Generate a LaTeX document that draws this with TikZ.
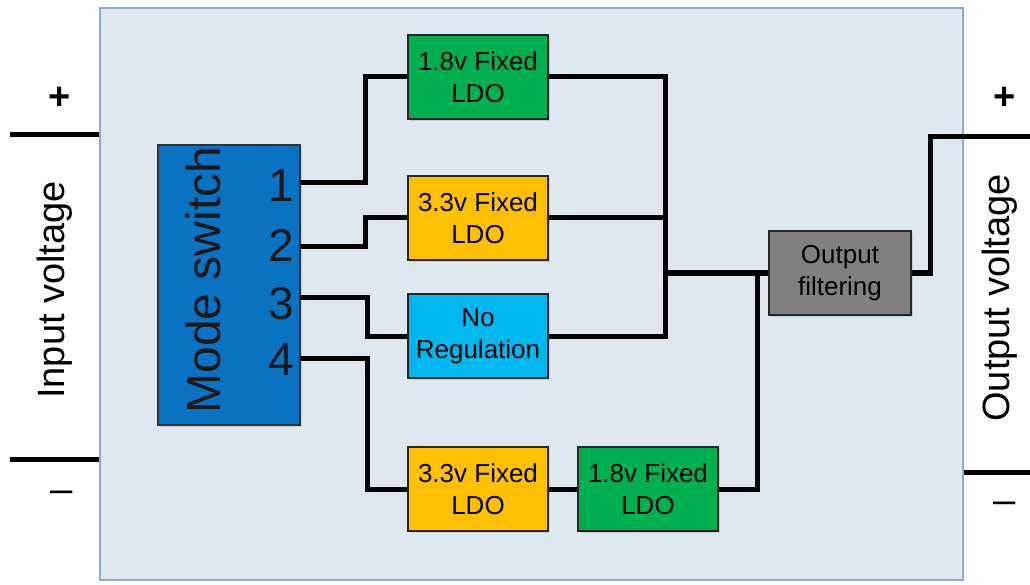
\documentclass[tikz,border=0pt]{standalone}
\usepackage{fontspec}
\setmainfont{Liberation Sans}
\usetikzlibrary{shadows}
\definecolor{panelbg}{HTML}{DFE7F1}
\definecolor{panelline}{HTML}{8EAAD0}
\definecolor{swblue}{HTML}{0A72C2}
\definecolor{ldogreen}{HTML}{00B050}
\definecolor{ldoyellow}{HTML}{FFC000}
\definecolor{noregcyan}{HTML}{00B8F0}
\definecolor{filtgray}{HTML}{808080}
\begin{document}
\begin{tikzpicture}[
        x=1pt, y=-1pt,
        box/.style={draw=black!85, line width=1.6pt, rectangle, minimum width=140pt, minimum height=84pt, align=center,
            font=\fontsize{26}{32}\selectfont, drop shadow={shadow xshift=1.5pt, shadow yshift=-2pt, opacity=0.25}},
        wire/.style={line width=5pt, line join=miter},
        sign/.style={font=\fontsize{38}{40}\selectfont\bfseries},
        minus/.style={font=\fontsize{40}{40}\selectfont},
        side/.style={font=\fontsize{38}{40}\selectfont, rotate=90}
    ]
    \useasboundingbox (0,0) rectangle (1030,585);

    % Board
    \node[draw=panelline, line width=1.5pt, fill=panelbg, minimum width=863pt, minimum height=572pt, inner sep=0pt] (board) at (531.5,294) {};

    % Mode switch with its four ports
    \node[draw=black!80, line width=1.5pt, fill=swblue, minimum width=142pt, minimum height=280pt,
        drop shadow={shadow xshift=1.5pt, shadow yshift=-2pt, opacity=0.25}] (sw) at (229,285) {};
    \node[rotate=90, font=\fontsize{48}{50}\selectfont, text=black!90] (swlabel) at (203,280) {Mode switch};
    \foreach \n/\y in {1/186, 2/245, 3/304, 4/360}
        \node[font=\fontsize{46}{48}\selectfont, text=black!90] (num\n) at (281,\y) {\n};
    \coordinate (p1) at (300,183);
    \coordinate (p2) at (300,247);
    \coordinate (p3) at (300,297);
    \coordinate (p4) at (300,358);

    % Regulators
    \node[box, fill=ldogreen] (ldoA) at (478,77) {1.8v Fixed\\LDO};
    \node[box, fill=ldoyellow] (ldoB) at (478,218) {3.3v Fixed\\LDO};
    \node[box, fill=noregcyan] (noreg) at (478,336) {No\\Regulation};
    \node[box, fill=ldoyellow] (ldoC) at (478,489) {3.3v Fixed\\LDO};
    \node[box, fill=ldogreen] (ldoD) at (648,489) {1.8v Fixed\\LDO};
    \node[box, fill=filtgray, minimum width=142pt] (filt) at (840,273) {Output\\filtering};

    \coordinate (bus) at (665,273);
    \coordinate (bus2) at (757,273);

    % Switch to regulators
    \draw[wire] (p1) -- ++(65,0) |- (ldoA.west);
    \draw[wire] (p2) -- ++(65,0) |- (ldoB.west);
    \draw[wire] (p3) -- ++(67,0) |- (noreg.west);
    \draw[wire] (p4) -- ++(67,0) |- (ldoC.west);

    % Regulators to filter
    \draw[wire] (ldoA.east) -| (bus);
    \draw[wire] (ldoB.east) -- (ldoB.east -| bus);
    \draw[wire] (noreg.east) -| (bus);
    \draw[wire] (bus) -- (filt.west);
    \draw[wire] (ldoC.east) -- (ldoD.west);
    \draw[wire] (ldoD.east) -| (bus2);

    % Terminals
    \coordinate (inp) at (10,135);
    \coordinate (inm) at (10,459);
    \coordinate (outp) at (1030,137);
    \coordinate (outm) at (1030,472);
    \draw[wire] (inp) -- (inp -| board.west);
    \draw[wire] (inm) -- (inm -| board.west);
    \draw[wire] (filt.east) -- ++(19,0) |- (outp);
    \draw[wire] (outm -| board.east) -- (outm);

    \node[sign] (inplus) at (60,98) {+};
    \node[minus] (inminus) at (62,497) {\textendash};
    \node[sign] (outplus) at (1005,98) {+};
    \node[minus] (outminus) at (1005,508) {\textendash};
    \node[side] (inlabel) at (55,290) {Input voltage};
    \node[side] (outlabel) at (1000,298) {Output voltage};

\end{tikzpicture}
\end{document}
